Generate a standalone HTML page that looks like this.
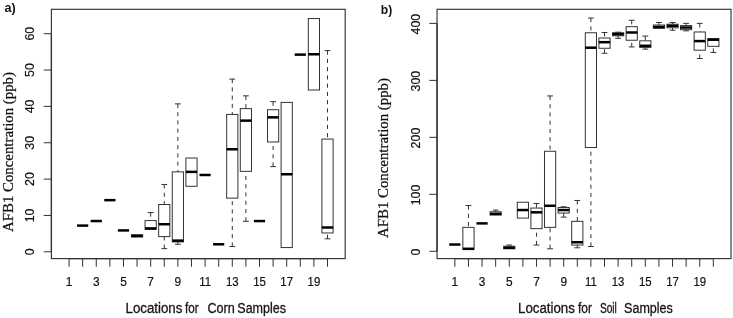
<!DOCTYPE html>
<html><head><meta charset="utf-8"><title>AFB1 boxplots</title>
<style>
html,body{margin:0;padding:0;background:#fff;}
svg{display:block;will-change:transform;}
text{fill:#111;}
.t{font-family:"Liberation Sans",sans-serif;font-size:12.4px;stroke:#111;stroke-width:0.2px;}
.yl{font-family:"Liberation Serif",serif;font-size:14.5px;stroke:#111;stroke-width:0.25px;}
.xl{font-family:"Liberation Sans",sans-serif;font-size:14px;stroke:#222;stroke-width:0.3px;}
.pl{font-family:"Liberation Sans",sans-serif;font-size:13.6px;font-weight:bold;}
.b{fill:#fff;stroke:#333;stroke-width:1;}
.m{stroke:#000;stroke-width:2.5;fill:none;}
.w{stroke:#333;stroke-width:1;stroke-dasharray:4.1 4.15;fill:none;}
.c{stroke:#333;stroke-width:1;fill:none;}
</style></head><body>
<svg width="733" height="318" viewBox="0 0 733 318">
<rect width="733" height="318" fill="#fff"/>
<rect x="51.4" y="9.3" width="293.8" height="249.3" fill="none" stroke="#333" stroke-width="1.15"/>
<path d="M69.05 258.6V266.8M82.65 258.6V266.8M96.26 258.6V266.8M109.86 258.6V266.8M123.46 258.6V266.8M137.06 258.6V266.8M150.67 258.6V266.8M164.27 258.6V266.8M177.87 258.6V266.8M191.48 258.6V266.8M205.08 258.6V266.8M218.68 258.6V266.8M232.29 258.6V266.8M245.89 258.6V266.8M259.49 258.6V266.8M273.09 258.6V266.8M286.7 258.6V266.8M300.3 258.6V266.8M313.9 258.6V266.8M327.51 258.6V266.8M51.4 251.8H43.7M51.4 215.45H43.7M51.4 179.1H43.7M51.4 142.75H43.7M51.4 106.4H43.7M51.4 70.05H43.7M51.4 33.7H43.7" stroke="#333" stroke-width="1" fill="none"/>
<path d="M51.4 251.8V33.7M69.05 258.6H327.51" stroke="#333" stroke-width="1.3" fill="none"/>
<text transform="translate(69.05 285.8) scale(0.96 1)" text-anchor="middle" class="t">1</text>
<text transform="translate(96.26 285.8) scale(0.96 1)" text-anchor="middle" class="t">3</text>
<text transform="translate(123.46 285.8) scale(0.96 1)" text-anchor="middle" class="t">5</text>
<text transform="translate(150.67 285.8) scale(0.96 1)" text-anchor="middle" class="t">7</text>
<text transform="translate(177.87 285.8) scale(0.96 1)" text-anchor="middle" class="t">9</text>
<text transform="translate(205.08 285.8) scale(0.92 1)" text-anchor="middle" class="t">11</text>
<text transform="translate(232.29 285.8) scale(0.92 1)" text-anchor="middle" class="t">13</text>
<text transform="translate(259.49 285.8) scale(0.92 1)" text-anchor="middle" class="t">15</text>
<text transform="translate(286.7 285.8) scale(0.92 1)" text-anchor="middle" class="t">17</text>
<text transform="translate(313.9 285.8) scale(0.92 1)" text-anchor="middle" class="t">19</text>
<text transform="translate(34.1 251.8) rotate(-90)" text-anchor="middle" class="t">0</text>
<text transform="translate(34.1 215.45) rotate(-90)" text-anchor="middle" class="t">10</text>
<text transform="translate(34.1 179.1) rotate(-90)" text-anchor="middle" class="t">20</text>
<text transform="translate(34.1 142.75) rotate(-90)" text-anchor="middle" class="t">30</text>
<text transform="translate(34.1 106.4) rotate(-90)" text-anchor="middle" class="t">40</text>
<text transform="translate(34.1 70.05) rotate(-90)" text-anchor="middle" class="t">50</text>
<text transform="translate(34.1 33.7) rotate(-90)" text-anchor="middle" class="t">60</text>
<path d="M77.05 225.6H88.25" class="m"/>
<path d="M90.66 221.05H101.86" class="m"/>
<path d="M104.26 200.15H115.46" class="m"/>
<path d="M117.86 230.42H129.06" class="m"/>
<rect x="131.47" y="234.79" width="11.2" height="2.19" class="b"/>
<path d="M131.47 235.89H142.66" class="m"/>
<rect x="145.07" y="220.57" width="11.2" height="8.75" class="b"/>
<path d="M145.07 228.41H156.27" class="m"/>
<path d="M150.67 212.55V220.57" class="w"/>
<path d="M147.77 212.55H153.57" class="c"/>
<rect x="158.67" y="204.52" width="11.2" height="32.09" class="b"/>
<path d="M158.67 224.22H169.87" class="m"/>
<path d="M164.27 184.47V204.52" class="w"/>
<path d="M161.37 184.47H167.17" class="c"/>
<path d="M164.27 248.65V236.62" class="w"/>
<path d="M161.37 248.65H167.17" class="c"/>
<rect x="172.27" y="171.88" width="11.2" height="70.02" class="b"/>
<path d="M172.27 240.63H183.47" class="m"/>
<path d="M177.87 103.87V171.88" class="w"/>
<path d="M174.97 103.87H180.77" class="c"/>
<path d="M177.87 244.28V241.91" class="w"/>
<path d="M174.97 244.28H180.77" class="c"/>
<rect x="185.88" y="158.03" width="11.2" height="28.26" class="b"/>
<path d="M185.88 171.88H197.08" class="m"/>
<path d="M199.48 174.98H210.68" class="m"/>
<path d="M213.08 244.28H224.28" class="m"/>
<rect x="226.69" y="114.44" width="11.2" height="83.7" class="b"/>
<path d="M226.69 149.27H237.89" class="m"/>
<path d="M232.29 79.07V114.44" class="w"/>
<path d="M229.39 79.07H235.19" class="c"/>
<path d="M232.29 246.46V198.14" class="w"/>
<path d="M229.39 246.46H235.19" class="c"/>
<rect x="240.29" y="108.61" width="11.2" height="62.73" class="b"/>
<path d="M240.29 120.64H251.49" class="m"/>
<path d="M245.89 95.84V108.61" class="w"/>
<path d="M242.99 95.84H248.79" class="c"/>
<path d="M245.89 221.3V171.34" class="w"/>
<path d="M242.99 221.3H248.79" class="c"/>
<path d="M253.89 221.05H265.09" class="m"/>
<rect x="267.49" y="109.7" width="11.2" height="32.28" class="b"/>
<path d="M267.49 117.36H278.69" class="m"/>
<path d="M273.09 101.68V109.7" class="w"/>
<path d="M270.19 101.68H275.99" class="c"/>
<path d="M273.09 166.6V141.98" class="w"/>
<path d="M270.19 166.6H275.99" class="c"/>
<rect x="281.1" y="102.41" width="11.2" height="145.15" class="b"/>
<path d="M281.1 174.25H292.3" class="m"/>
<path d="M294.7 54.63H305.9" class="m"/>
<rect x="308.3" y="18.53" width="11.2" height="71.48" class="b"/>
<path d="M308.3 54.27H319.5" class="m"/>
<rect x="321.91" y="139.06" width="11.2" height="93.91" class="b"/>
<path d="M321.91 227.5H333.11" class="m"/>
<path d="M327.51 50.62V139.06" class="w"/>
<path d="M324.61 50.62H330.41" class="c"/>
<path d="M327.51 238.81V232.97" class="w"/>
<path d="M324.61 238.81H330.41" class="c"/>
<text transform="translate(12.7 152) rotate(-90)" text-anchor="middle" class="yl" textLength="160" lengthAdjust="spacingAndGlyphs">AFB1 Concentration (ppb)</text>
<rect x="437.05" y="9.3" width="293.95" height="249.3" fill="none" stroke="#333" stroke-width="1.15"/>
<path d="M454.85 258.6V266.8M468.46 258.6V266.8M482.06 258.6V266.8M495.67 258.6V266.8M509.27 258.6V266.8M522.88 258.6V266.8M536.48 258.6V266.8M550.09 258.6V266.8M563.69 258.6V266.8M577.3 258.6V266.8M590.9 258.6V266.8M604.5 258.6V266.8M618.11 258.6V266.8M631.72 258.6V266.8M645.32 258.6V266.8M658.93 258.6V266.8M672.53 258.6V266.8M686.13 258.6V266.8M699.74 258.6V266.8M713.35 258.6V266.8M437.05 251.3H429.35M437.05 194.33H429.35M437.05 137.35H429.35M437.05 80.38H429.35M437.05 23.4H429.35" stroke="#333" stroke-width="1" fill="none"/>
<path d="M437.05 251.3V23.4M454.85 258.6H713.35" stroke="#333" stroke-width="1.3" fill="none"/>
<text transform="translate(454.85 285.8) scale(0.96 1)" text-anchor="middle" class="t">1</text>
<text transform="translate(482.06 285.8) scale(0.96 1)" text-anchor="middle" class="t">3</text>
<text transform="translate(509.27 285.8) scale(0.96 1)" text-anchor="middle" class="t">5</text>
<text transform="translate(536.48 285.8) scale(0.96 1)" text-anchor="middle" class="t">7</text>
<text transform="translate(563.69 285.8) scale(0.96 1)" text-anchor="middle" class="t">9</text>
<text transform="translate(590.9 285.8) scale(0.92 1)" text-anchor="middle" class="t">11</text>
<text transform="translate(618.11 285.8) scale(0.92 1)" text-anchor="middle" class="t">13</text>
<text transform="translate(645.32 285.8) scale(0.92 1)" text-anchor="middle" class="t">15</text>
<text transform="translate(672.53 285.8) scale(0.92 1)" text-anchor="middle" class="t">17</text>
<text transform="translate(699.74 285.8) scale(0.92 1)" text-anchor="middle" class="t">19</text>
<text transform="translate(419.8 252) rotate(-90)" text-anchor="middle" class="t">0</text>
<text transform="translate(419.8 195.03) rotate(-90)" text-anchor="middle" class="t">100</text>
<text transform="translate(419.8 138.05) rotate(-90)" text-anchor="middle" class="t">200</text>
<text transform="translate(419.8 81.08) rotate(-90)" text-anchor="middle" class="t">300</text>
<text transform="translate(419.8 24.1) rotate(-90)" text-anchor="middle" class="t">400</text>
<path d="M449.25 244.53H460.45" class="m"/>
<rect x="462.86" y="227.37" width="11.2" height="22.17" class="b"/>
<path d="M462.86 248.8H474.06" class="m"/>
<path d="M468.46 205.54V227.37" class="w"/>
<path d="M465.56 205.54H471.36" class="c"/>
<path d="M476.46 223.38H487.66" class="m"/>
<rect x="490.06" y="211.75" width="11.2" height="3.31" class="b"/>
<path d="M490.06 213.8H501.27" class="m"/>
<path d="M495.67 210.04V211.75" class="w"/>
<path d="M492.77 210.04H498.56" class="c"/>
<rect x="503.67" y="246.24" width="11.2" height="2.56" class="b"/>
<path d="M503.67 247.77H514.87" class="m"/>
<path d="M509.27 245.04V246.24" class="w"/>
<path d="M506.37 245.04H512.17" class="c"/>
<rect x="517.27" y="202.23" width="11.2" height="15.85" class="b"/>
<path d="M517.27 210.04H528.48" class="m"/>
<rect x="530.88" y="208.05" width="11.2" height="20.58" class="b"/>
<path d="M530.88 212.32H542.08" class="m"/>
<path d="M536.48 203.49V208.05" class="w"/>
<path d="M533.58 203.49H539.38" class="c"/>
<path d="M536.48 245.04V228.62" class="w"/>
<path d="M533.58 245.04H539.38" class="c"/>
<rect x="544.49" y="151.27" width="11.2" height="76.09" class="b"/>
<path d="M544.49 205.77H555.69" class="m"/>
<path d="M550.09 95.93V151.27" class="w"/>
<path d="M547.19 95.93H552.99" class="c"/>
<path d="M550.09 248.8V227.37" class="w"/>
<path d="M547.19 248.8H552.99" class="c"/>
<rect x="558.09" y="207.53" width="11.2" height="5.53" class="b"/>
<path d="M558.09 210.04H569.29" class="m"/>
<path d="M563.69 206.79V207.53" class="w"/>
<path d="M560.79 206.79H566.59" class="c"/>
<path d="M563.69 217.11V213.06" class="w"/>
<path d="M560.79 217.11H566.59" class="c"/>
<rect x="571.7" y="221.33" width="11.2" height="23.71" class="b"/>
<path d="M571.7 242.25H582.9" class="m"/>
<path d="M577.3 200.46V221.33" class="w"/>
<path d="M574.4 200.46H580.2" class="c"/>
<path d="M577.3 247.77V245.04" class="w"/>
<path d="M574.4 247.77H580.2" class="c"/>
<rect x="585.3" y="32.77" width="11.2" height="114.74" class="b"/>
<path d="M585.3 47.7H596.5" class="m"/>
<path d="M590.9 18.06V32.77" class="w"/>
<path d="M588 18.06H593.8" class="c"/>
<path d="M590.9 246.52V147.51" class="w"/>
<path d="M588 246.52H593.8" class="c"/>
<rect x="598.9" y="38.01" width="11.2" height="10.26" class="b"/>
<path d="M598.9 42.18H610.11" class="m"/>
<path d="M604.5 32.49V38.01" class="w"/>
<path d="M601.61 32.49H607.4" class="c"/>
<path d="M604.5 53.29V48.27" class="w"/>
<path d="M601.61 53.29H607.4" class="c"/>
<rect x="612.51" y="32.77" width="11.2" height="3.02" class="b"/>
<path d="M612.51 34.14H623.71" class="m"/>
<path d="M618.11 32.2V32.77" class="w"/>
<path d="M615.21 32.2H621.01" class="c"/>
<path d="M618.11 38.3V35.79" class="w"/>
<path d="M615.21 38.3H621.01" class="c"/>
<rect x="626.12" y="26.67" width="11.2" height="13.57" class="b"/>
<path d="M626.12 32.49H637.32" class="m"/>
<path d="M631.72 20.29V26.67" class="w"/>
<path d="M628.82 20.29H634.62" class="c"/>
<path d="M631.72 46.91V40.24" class="w"/>
<path d="M628.82 46.91H634.62" class="c"/>
<rect x="639.72" y="40.81" width="11.2" height="6.61" class="b"/>
<path d="M639.72 45.77H650.92" class="m"/>
<path d="M645.32 36.08V40.81" class="w"/>
<path d="M642.42 36.08H648.22" class="c"/>
<path d="M645.32 49.13V47.42" class="w"/>
<path d="M642.42 49.13H648.22" class="c"/>
<rect x="653.33" y="25.02" width="11.2" height="3.31" class="b"/>
<path d="M653.33 26.96H664.53" class="m"/>
<path d="M658.93 22.51V25.02" class="w"/>
<path d="M656.03 22.51H661.83" class="c"/>
<rect x="666.93" y="24.22" width="11.2" height="3.59" class="b"/>
<path d="M666.93 25.87H678.13" class="m"/>
<path d="M672.53 22.51V24.22" class="w"/>
<path d="M669.63 22.51H675.43" class="c"/>
<path d="M672.53 30.26V27.81" class="w"/>
<path d="M669.63 30.26H675.43" class="c"/>
<rect x="680.53" y="25.59" width="11.2" height="4.1" class="b"/>
<path d="M680.53 27.53H691.74" class="m"/>
<path d="M686.13 23.37V25.59" class="w"/>
<path d="M683.24 23.37H689.03" class="c"/>
<path d="M686.13 30.83V29.69" class="w"/>
<path d="M683.24 30.83H689.03" class="c"/>
<rect x="694.14" y="31.97" width="11.2" height="18.24" class="b"/>
<path d="M694.14 41.09H705.34" class="m"/>
<path d="M699.74 23.37V31.97" class="w"/>
<path d="M696.84 23.37H702.64" class="c"/>
<path d="M699.74 58.53V50.21" class="w"/>
<path d="M696.84 58.53H702.64" class="c"/>
<rect x="707.75" y="38.58" width="11.2" height="7.75" class="b"/>
<path d="M707.75 39.72H718.95" class="m"/>
<path d="M713.35 52.44V46.34" class="w"/>
<path d="M710.45 52.44H716.25" class="c"/>
<text transform="translate(388.4 158) rotate(-90)" text-anchor="middle" class="yl" textLength="160" lengthAdjust="spacingAndGlyphs">AFB1 Concentration (ppb)</text>
<text x="4.5" y="11.8" class="pl" textLength="11.2" lengthAdjust="spacingAndGlyphs">a)</text>
<text x="380.8" y="13.6" class="pl" textLength="11.4" lengthAdjust="spacingAndGlyphs">b)</text>
<text x="125.5" y="313.4" class="xl" textLength="56.9" lengthAdjust="spacingAndGlyphs">Locations</text>
<text x="184.9" y="313.4" class="xl" textLength="13.7" lengthAdjust="spacingAndGlyphs">for</text>
<text x="207.4" y="313.4" class="xl" textLength="27.4" lengthAdjust="spacingAndGlyphs">Corn</text>
<text x="237.3" y="313.4" class="xl" textLength="48.7" lengthAdjust="spacingAndGlyphs">Samples</text>
<text x="518.0" y="313.4" class="xl" textLength="56.9" lengthAdjust="spacingAndGlyphs">Locations</text>
<text x="577.9" y="313.4" class="xl" textLength="14" lengthAdjust="spacingAndGlyphs">for</text>
<text x="599.9" y="313.4" class="xl" textLength="17" lengthAdjust="spacingAndGlyphs">Soil</text>
<text x="624.1" y="313.4" class="xl" textLength="48.7" lengthAdjust="spacingAndGlyphs">Samples</text>
</svg>
</body></html>
